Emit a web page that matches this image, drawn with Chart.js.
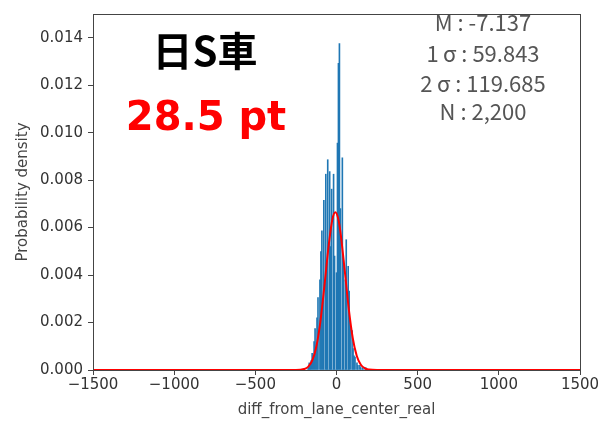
<!DOCTYPE html>
<html>
<head>
<meta charset="utf-8">
<script src="https://cdn.jsdelivr.net/npm/chart.js@4"></script>
<style>
  html, body { margin: 0; padding: 0; background: #fff; }
  #wrap { width: 603px; height: 422px; }
</style>
</head>
<body>
<div id="wrap"><canvas id="histChart" width="603" height="422"></canvas></div>
<script>
// histogram: bins of 6 starting at -183
const binStart = -183;
const binWidth = 6;
const density = [
  0, 0.0001, 0.0003, 0.0002, 0.0004, 0.0007, 0.0005, 0.0012, 0.00175, 0.0009,
  0.0022, 0.00305, 0, 0.0038, 0.00499, 0.00586, 0.0030, 0.00715, 0, 0.00825,
  0.0045, 0.00886, 0, 0.00836, 0.0052, 0.00762, 0, 0.00825, 0.0048, 0,
  0.0041, 0.00956, 0.01292, 0.01375, 0.0068, 0, 0.00894, 0.0046, 0, 0.0038,
  0.00549, 0, 0.00437, 0.00333, 0.0021, 0, 0.00166, 0.0009, 0.0006, 0.00054,
  0, 0.0003, 0.0002, 0, 0.0002, 0.0001, 0, 0.0001, 0, 0,
  0.0001
];

// fitted normal curve
const curveX = [-1500, -300, -250, -200, -175, -150, -125, -100, -75, -50, -25, -7, 10, 25, 50, 75, 100, 125, 150, 175, 200, 250, 300, 1500];
const curveY = [0, 0, 0, 0.00004, 0.00013, 0.00039, 0.00096, 0.0020, 0.0035, 0.00514, 0.00636, 0.00665, 0.00639, 0.00577, 0.00424, 0.00261, 0.00135, 0.00059, 0.00022, 0.00007, 0.00002, 0, 0, 0];

const xTicks = [-1500, -1000, -500, 0, 500, 1000, 1500];
const yTicks = [0, 0.002, 0.004, 0.006, 0.008, 0.010, 0.012, 0.014];

const statLines = ['M : -7.137', '1\u2009σ : 59.843', '2\u2009σ : 119.685', 'N : 2,200'];
const titleText = '日S車';
const scoreText = '28.5 pt';

const barData = density.map((d, i) => ({ x: binStart + binWidth * i + binWidth / 2, y: d }));
const lineData = curveX.map((x, i) => ({ x: x, y: curveY[i] }));

const overlay = {
  id: 'overlay',
  afterDraw(chart) {
    const ctx = chart.ctx;
    const a = chart.chartArea;
    ctx.save();
    ctx.strokeStyle = '#444';
    ctx.lineWidth = 1;
    ctx.strokeRect(Math.round(a.left) + 0.5, Math.round(a.top) + 0.5, Math.round(a.right - a.left), Math.round(a.bottom - a.top));

    ctx.textAlign = 'center';
    ctx.fillStyle = '#000';
    ctx.font = 'bold 40px "Noto Sans CJK JP"';
    ctx.textBaseline = 'middle';
    ctx.fillText(titleText, 205, 51);

    ctx.fillStyle = '#ff0000';
    ctx.font = 'bold 40px "DejaVu Sans"';
    ctx.textBaseline = 'alphabetic';
    ctx.fillText(scoreText, 206, 130);

    ctx.fillStyle = '#555';
    ctx.font = '22px "Noto Sans CJK JP"';
    ctx.textBaseline = 'middle';
    const ys = [23, 54, 84, 112];
    statLines.forEach((s, i) => ctx.fillText(s, 483, ys[i]));
    ctx.restore();
  }
};

new Chart('histChart', {
  type: 'bar',
  data: {
    datasets: [{
      type: 'line',
      data: lineData,
      borderColor: '#ff0000',
      borderWidth: 2,
      pointRadius: 0,
      cubicInterpolationMode: 'monotone',
      fill: false,
      order: 0
    }, {
      type: 'bar',
      data: barData,
      backgroundColor: '#1f77b4',
      borderWidth: 0,
      barPercentage: 1,
      categoryPercentage: 1,
      grouped: false,
      order: 1
    }]
  },
  options: {
    responsive: false,
    animation: false,
    layout: { padding: { left: 0, top: 9, right: 23, bottom: 0 } },
    plugins: {
      legend: { display: false },
      tooltip: { enabled: false }
    },
    scales: {
      x: {
        type: 'linear',
        offset: false,
        min: -1500,
        max: 1500,
        afterFit(scale) { scale.height = 52; },
        afterBuildTicks(scale) { scale.ticks = xTicks.map(v => ({ value: v })); },
        grid: { offset: false, drawOnChartArea: false, drawTicks: true, tickLength: 5, color: '#444' },
        border: { display: true, color: '#444' },
        ticks: {
          color: '#333',
          font: { family: 'DejaVu Sans', size: 15 },
          padding: 1,
          maxRotation: 0,
          callback: v => String(v).replace('-', '\u2212')
        },
        title: {
          display: true,
          text: 'diff_from_lane_center_real',
          color: '#444',
          font: { family: 'DejaVu Sans', size: 15 },
          padding: { top: 0, bottom: 3 }
        }
      },
      y: {
        min: 0,
        max: 0.015,
        afterFit(scale) { scale.width = 93; },
        afterBuildTicks(scale) { scale.ticks = yTicks.map(v => ({ value: v })); },
        grid: { drawOnChartArea: false, drawTicks: true, tickLength: 5, color: '#444' },
        border: { display: true, color: '#444' },
        ticks: {
          color: '#333',
          font: { family: 'DejaVu Sans', size: 15 },
          padding: 5,
          callback: v => v.toFixed(3)
        },
        title: {
          display: true,
          text: 'Probability density',
          color: '#444',
          font: { family: 'DejaVu Sans', size: 15 },
          padding: { top: 14, bottom: 0 }
        }
      }
    }
  },
  plugins: [overlay]
});
</script>
</body>
</html>
